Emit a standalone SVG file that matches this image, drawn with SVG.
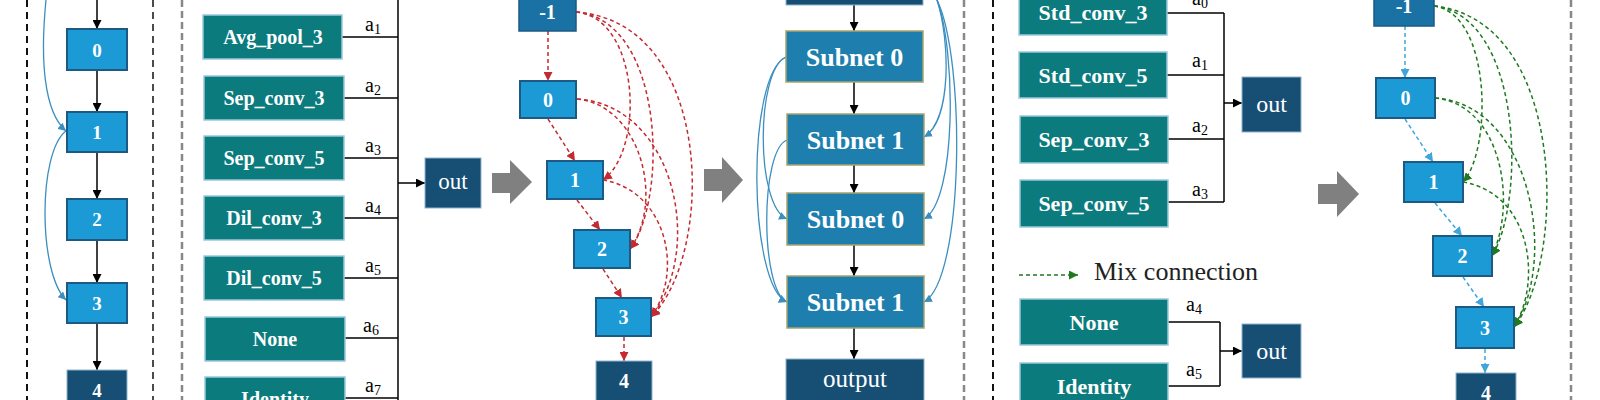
<svg xmlns="http://www.w3.org/2000/svg" width="1600" height="400" viewBox="0 0 1600 400">
<defs>
<style>
.op{fill:#0b7b7e;stroke:#9cc8dc;stroke-width:1.5}
.nd{fill:#1b9ad6;stroke:#1c5a84;stroke-width:2}
.nm{fill:#1a72a4;stroke:#1c5a84;stroke-width:1.5}
.dk{fill:#164e74;stroke:#8fb3cc;stroke-width:1}
.sb{fill:#1e7eae;stroke:#a6a46a;stroke-width:1.5}
.tb{font-family:"Liberation Serif","Times New Roman",serif;font-weight:bold;fill:#fff;text-anchor:middle}
.tr{font-family:"Liberation Serif","Times New Roman",serif;fill:#fff;text-anchor:middle}
.lab{font-family:"Liberation Serif","Times New Roman",serif;font-size:20px;fill:#000}
.sub{font-size:14px}
.ln{fill:none;stroke:#000;stroke-width:1.5}
.lk{fill:none;stroke:#000;stroke-width:1.5;marker-end:url(#ab)}
.cb{fill:none;stroke:#3b8fc0;stroke-width:1.3;marker-end:url(#ac)}
.rd{fill:none;stroke:#c42a30;stroke-width:1.5;stroke-dasharray:4 3;marker-end:url(#ar)}
.gd{fill:none;stroke:#1f7a1f;stroke-width:1.5;stroke-dasharray:4 3;marker-end:url(#ag)}
.bd{fill:none;stroke:#3fa6dc;stroke-width:1.5;stroke-dasharray:4 3;marker-end:url(#abl)}
.bk{fill:none;stroke:#111;stroke-width:2;stroke-dasharray:7 5}
.gy{fill:none;stroke:#888;stroke-width:2.5;stroke-dasharray:7 4}
.ga{fill:#808080}
</style>
<marker id="ab" viewBox="0 0 10 10" refX="10" refY="5" markerWidth="9" markerHeight="9" markerUnits="userSpaceOnUse" orient="auto"><path d="M0,0 L10,5 L0,10 z" fill="#000"/></marker>
<marker id="ac" viewBox="0 0 10 10" refX="10" refY="5" markerWidth="8" markerHeight="8" markerUnits="userSpaceOnUse" orient="auto"><path d="M0,0 L10,5 L0,10 z" fill="#3b8fc0"/></marker>
<marker id="ar" viewBox="0 0 10 10" refX="10" refY="5" markerWidth="9" markerHeight="9" markerUnits="userSpaceOnUse" orient="auto"><path d="M0,0 L10,5 L0,10 z" fill="#c42a30"/></marker>
<marker id="ag" viewBox="0 0 10 10" refX="10" refY="5" markerWidth="9" markerHeight="9" markerUnits="userSpaceOnUse" orient="auto"><path d="M0,0 L10,5 L0,10 z" fill="#1f7a1f"/></marker>
<marker id="abl" viewBox="0 0 10 10" refX="10" refY="5" markerWidth="9" markerHeight="9" markerUnits="userSpaceOnUse" orient="auto"><path d="M0,0 L10,5 L0,10 z" fill="#3fa6dc"/></marker>
</defs>
<rect width="1600" height="400" fill="#fff"/>

<g id="borders">
<line class="bk" x1="27" y1="0" x2="27" y2="400"/>
<line class="bk" x1="153" y1="0" x2="153" y2="400" style="stroke-width:1.5"/>
<line class="gy" x1="182" y1="0" x2="182" y2="400"/>
<line class="gy" x1="964" y1="0" x2="964" y2="400"/>
<line class="bk" x1="993" y1="0" x2="993" y2="400"/>
<line class="gy" x1="1571" y1="0" x2="1571" y2="400"/>
</g>

<g id="connectors">
<!-- left DAG -->
<line class="lk" x1="97" y1="0" x2="97" y2="29"/>
<line class="lk" x1="97" y1="70" x2="97" y2="112"/>
<line class="lk" x1="97" y1="152" x2="97" y2="199"/>
<line class="lk" x1="97" y1="240" x2="97" y2="283"/>
<line class="lk" x1="97" y1="323" x2="97" y2="370"/>
<path class="cb" d="M46,0 C40,60 44,112 66,131"/>
<path class="cb" d="M66,131 C38,152 38,272 66,300"/>
<!-- left ops -->
<line class="ln" x1="398" y1="0" x2="398" y2="400"/>
<line class="ln" x1="342" y1="37" x2="398" y2="37"/>
<line class="ln" x1="344" y1="98" x2="398" y2="98"/>
<line class="ln" x1="344" y1="158" x2="398" y2="158"/>
<line class="ln" x1="344" y1="218" x2="398" y2="218"/>
<line class="ln" x1="344" y1="278" x2="398" y2="278"/>
<line class="ln" x1="345" y1="338" x2="398" y2="338"/>
<line class="ln" x1="345" y1="398" x2="398" y2="398"/>
<line class="lk" x1="398" y1="183" x2="425" y2="183"/>
<!-- red DAG -->
<line class="rd" x1="548" y1="31" x2="548" y2="81"/>
<line class="rd" x1="548" y1="119" x2="575" y2="161"/>
<line class="rd" x1="577" y1="200" x2="600" y2="230"/>
<line class="rd" x1="603" y1="269" x2="622" y2="298"/>
<line class="rd" x1="624" y1="337" x2="624" y2="361"/>
<path class="rd" d="M576,12 C640,18 645,150 603,180"/>
<path class="rd" d="M576,12 C665,20 668,200 630,249"/>
<path class="rd" d="M576,12 C715,22 715,255 651,317"/>
<path class="rd" d="M577,99 C640,105 665,200 630,249"/>
<path class="rd" d="M577,99 C675,105 705,250 651,317"/>
<path class="rd" d="M603,180 C665,190 685,270 651,317"/>
<!-- middle subnets -->
<line class="lk" x1="854" y1="5" x2="854" y2="31"/>
<line class="lk" x1="854" y1="82" x2="854" y2="114"/>
<line class="lk" x1="854" y1="165" x2="854" y2="193"/>
<line class="lk" x1="854" y1="245" x2="854" y2="276"/>
<line class="lk" x1="854" y1="328" x2="854" y2="359"/>
<path class="cb" d="M786,57 C756,70 755,205 787,219"/>
<path class="cb" d="M786,57 C746,75 748,285 787,302"/>
<path class="cb" d="M787,140 C760,150 760,290 787,302"/>
<path class="cb" d="M937,0 C950,40 952,120 924,137"/>
<path class="cb" d="M937,0 C956,50 957,200 924,219"/>
<path class="cb" d="M937,0 C966,60 964,280 924,302"/>
<!-- right ops -->
<line class="ln" x1="1167" y1="13" x2="1224" y2="13"/>
<line class="ln" x1="1167" y1="75" x2="1224" y2="75"/>
<line class="ln" x1="1168" y1="139" x2="1224" y2="139"/>
<line class="ln" x1="1168" y1="202" x2="1224" y2="202"/>
<line class="ln" x1="1224" y1="13" x2="1224" y2="202"/>
<line class="lk" x1="1224" y1="103" x2="1242" y2="103"/>
<line class="ln" x1="1168" y1="322" x2="1220" y2="322"/>
<line class="ln" x1="1168" y1="386" x2="1220" y2="386"/>
<line class="ln" x1="1220" y1="322" x2="1220" y2="386"/>
<line class="lk" x1="1220" y1="351" x2="1242" y2="351"/>
<!-- right DAG -->
<line class="bd" x1="1405" y1="26" x2="1405" y2="78"/>
<line class="bd" x1="1405" y1="119" x2="1433" y2="162"/>
<line class="bd" x1="1435" y1="203" x2="1462" y2="236"/>
<line class="bd" x1="1463" y1="277" x2="1484" y2="307"/>
<line class="bd" x1="1485" y1="349" x2="1485" y2="373"/>
<path class="gd" d="M1434,6 C1492,14 1492,150 1463,182"/>
<path class="gd" d="M1434,6 C1522,16 1526,200 1492,256"/>
<path class="gd" d="M1434,6 C1568,20 1566,262 1514,327"/>
<path class="gd" d="M1435,98 C1500,104 1518,200 1492,256"/>
<path class="gd" d="M1435,98 C1532,104 1558,262 1514,327"/>
<path class="gd" d="M1463,182 C1532,194 1542,282 1514,327"/>
<!-- legend -->
<line class="gd" x1="1019" y1="275" x2="1078" y2="275"/>
</g>

<g id="left-dag">
<g id="l0"><rect class="nd" x="67" y="29" width="60" height="41"/><text class="tb" x="97" y="56.5" font-size="19">0</text></g>
<g id="l1"><rect class="nd" x="67" y="112" width="60" height="40"/><text class="tb" x="97" y="138.5" font-size="19">1</text></g>
<g id="l2"><rect class="nd" x="67" y="199" width="60" height="41"/><text class="tb" x="97" y="226" font-size="19">2</text></g>
<g id="l3"><rect class="nd" x="67" y="283" width="60" height="40"/><text class="tb" x="97" y="309.5" font-size="19">3</text></g>
<g id="l4"><rect class="dk" x="67" y="370" width="60" height="41"/><text class="tb" x="97" y="397" font-size="19">4</text></g>
</g>

<g id="left-ops">
<g id="op-avg"><rect class="op" x="203" y="15" width="139" height="44"/><text class="tb" x="273" y="44" font-size="20">Avg_pool_3</text></g>
<g id="op-sep3"><rect class="op" x="204" y="76" width="140" height="44"/><text class="tb" x="274" y="105" font-size="20">Sep_conv_3</text></g>
<g id="op-sep5"><rect class="op" x="204" y="136" width="140" height="44"/><text class="tb" x="274" y="165" font-size="20">Sep_conv_5</text></g>
<g id="op-dil3"><rect class="op" x="204" y="196" width="140" height="44"/><text class="tb" x="274" y="225" font-size="20">Dil_conv_3</text></g>
<g id="op-dil5"><rect class="op" x="204" y="256" width="140" height="44"/><text class="tb" x="274" y="285" font-size="20">Dil_conv_5</text></g>
<g id="op-none"><rect class="op" x="205" y="317" width="140" height="44"/><text class="tb" x="275" y="346" font-size="20">None</text></g>
<g id="op-id"><rect class="op" x="205" y="377" width="140" height="44"/><text class="tb" x="275" y="406" font-size="20">Identity</text></g>
<text class="lab" x="365" y="31">a<tspan class="sub" dy="3">1</tspan></text>
<text class="lab" x="365" y="92">a<tspan class="sub" dy="3">2</tspan></text>
<text class="lab" x="365" y="152">a<tspan class="sub" dy="3">3</tspan></text>
<text class="lab" x="365" y="212">a<tspan class="sub" dy="3">4</tspan></text>
<text class="lab" x="365" y="272">a<tspan class="sub" dy="3">5</tspan></text>
<text class="lab" x="363" y="332">a<tspan class="sub" dy="3">6</tspan></text>
<text class="lab" x="365" y="392">a<tspan class="sub" dy="3">7</tspan></text>
<g id="out-left"><rect class="dk" x="425" y="158" width="56" height="50"/><text class="tr" x="453" y="189" font-size="23">out</text></g>
</g>

<g id="arrows-gray">
<path class="ga" d="M492,173 L510,173 L510,160 L532,182 L510,204 L510,193 L492,193 z"/>
<path class="ga" d="M704,169 L722,169 L722,157 L743,180 L722,203 L722,191 L704,191 z"/>
<path class="ga" d="M1318,184 L1337,184 L1337,171 L1359,194 L1337,217 L1337,204 L1318,204 z"/>
</g>

<g id="red-dag">
<g id="rm1"><rect class="nm" x="519" y="-7" width="57" height="38"/><text class="tb" x="547.5" y="18.5" font-size="20">-1</text></g>
<g id="r0"><rect class="nd" x="520" y="81" width="56" height="37"/><text class="tb" x="548" y="106.5" font-size="20">0</text></g>
<g id="r1"><rect class="nd" x="547" y="161" width="56" height="38"/><text class="tb" x="575" y="187" font-size="20">1</text></g>
<g id="r2"><rect class="nd" x="574" y="230" width="56" height="38"/><text class="tb" x="602" y="256" font-size="20">2</text></g>
<g id="r3"><rect class="nd" x="596" y="298" width="55" height="38"/><text class="tb" x="623.5" y="324" font-size="20">3</text></g>
<g id="r4"><rect class="dk" x="596" y="361" width="56" height="40"/><text class="tb" x="624" y="388" font-size="20">4</text></g>
</g>

<g id="subnets">
<g id="top-in"><rect class="dk" x="786" y="-40" width="137" height="45"/></g>
<g id="s0a"><rect class="sb" x="786" y="31" width="137" height="51"/><text class="tb" x="854.5" y="65.5" font-size="26">Subnet 0</text></g>
<g id="s1a"><rect class="sb" x="787" y="114" width="137" height="51"/><text class="tb" x="855.5" y="148.5" font-size="26">Subnet 1</text></g>
<g id="s0b"><rect class="sb" x="787" y="193" width="137" height="52"/><text class="tb" x="855.5" y="228" font-size="26">Subnet 0</text></g>
<g id="s1b"><rect class="sb" x="787" y="276" width="137" height="52"/><text class="tb" x="855.5" y="311" font-size="26">Subnet 1</text></g>
<g id="output"><rect class="dk" x="786" y="359" width="138" height="51"/><text class="tr" x="855" y="387" font-size="25">output</text></g>
</g>

<g id="right-ops">
<g id="op-std3"><rect class="op" x="1019" y="-11" width="148" height="46"/><text class="tb" x="1093" y="19.5" font-size="22">Std_conv_3</text></g>
<g id="op-std5"><rect class="op" x="1019" y="52" width="148" height="46"/><text class="tb" x="1093" y="82.5" font-size="22">Std_conv_5</text></g>
<g id="op-rsep3"><rect class="op" x="1020" y="116" width="148" height="47"/><text class="tb" x="1094" y="147" font-size="22">Sep_conv_3</text></g>
<g id="op-rsep5"><rect class="op" x="1020" y="180" width="148" height="47"/><text class="tb" x="1094" y="211" font-size="22">Sep_conv_5</text></g>
<g id="op-rnone"><rect class="op" x="1020" y="299" width="148" height="46"/><text class="tb" x="1094" y="329.5" font-size="22">None</text></g>
<g id="op-rid"><rect class="op" x="1020" y="363" width="148" height="46"/><text class="tb" x="1094" y="393.5" font-size="22">Identity</text></g>
<text class="lab" x="1192" y="5">a<tspan class="sub" dy="3">0</tspan></text>
<text class="lab" x="1192" y="67">a<tspan class="sub" dy="3">1</tspan></text>
<text class="lab" x="1192" y="132">a<tspan class="sub" dy="3">2</tspan></text>
<text class="lab" x="1192" y="196">a<tspan class="sub" dy="3">3</tspan></text>
<text class="lab" x="1186" y="311">a<tspan class="sub" dy="3">4</tspan></text>
<text class="lab" x="1186" y="376">a<tspan class="sub" dy="3">5</tspan></text>
<g id="out-r1"><rect class="dk" x="1242" y="77" width="59" height="55"/><text class="tr" x="1271.5" y="112" font-size="24">out</text></g>
<g id="out-r2"><rect class="dk" x="1242" y="324" width="59" height="54"/><text class="tr" x="1271.5" y="359" font-size="24">out</text></g>
<text x="1094" y="280" font-family="Liberation Serif, Times New Roman, serif" font-size="26" fill="#222">Mix connection</text>
</g>

<g id="green-dag">
<g id="gm1"><rect class="nm" x="1374" y="-14" width="60" height="40"/><text class="tb" x="1404" y="13" font-size="20">-1</text></g>
<g id="g0"><rect class="nd" x="1376" y="78" width="59" height="40"/><text class="tb" x="1405.5" y="105" font-size="20">0</text></g>
<g id="g1"><rect class="nd" x="1404" y="162" width="59" height="40"/><text class="tb" x="1433.5" y="189" font-size="20">1</text></g>
<g id="g2"><rect class="nd" x="1433" y="236" width="59" height="40"/><text class="tb" x="1462.5" y="263" font-size="20">2</text></g>
<g id="g3"><rect class="nd" x="1456" y="307" width="58" height="41"/><text class="tb" x="1485" y="334.5" font-size="20">3</text></g>
<g id="g4"><rect class="dk" x="1456" y="373" width="60" height="40"/><text class="tb" x="1486" y="400" font-size="20">4</text></g>
</g>
</svg>
